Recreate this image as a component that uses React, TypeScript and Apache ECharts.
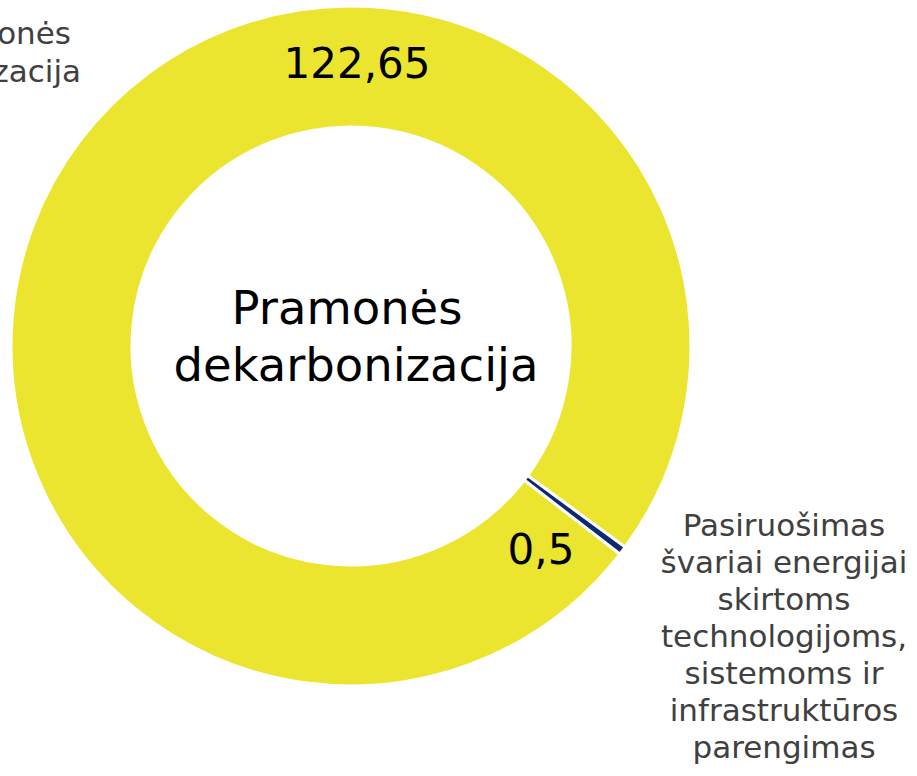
import React, { useEffect, useRef } from "react";
import * as echarts from "echarts";

const categories = [
  "Pramonės dekarbonizacija",
  "Pasiruošimas švariai energijai skirtoms technologijoms, sistemoms ir infrastruktūros parengimas",
];
const categoryLabels = [
  "{p|Pramonės}\n{q|dekarbonizacija}",
  "Pasiruošimas\nšvariai energijai\nskirtoms\ntechnologijoms,\nsistemoms ir\ninfrastruktūros\nparengimas",
];
const values = [122.65, 0.5];
const colors = ["#EBE530", "#0C2A6E"];
const centerTitleLines = ["Pramonės", "dekarbonizacija"];

const FONT = "'DejaVu Sans', Verdana, sans-serif";

export default function App() {
  const ref = useRef<HTMLDivElement>(null);
  useEffect(() => {
    if (!ref.current) return;
    const chart = echarts.init(ref.current, undefined, { renderer: "svg" });
    const data = categories.map((name, i) => ({
      name,
      value: values[i],
      itemStyle: { color: colors[i] },
    }));
    const valuePos = [
      { x: 357, y: 63 },
      { x: 541, y: 549 },
    ];
    const namePos = [
      { x: 81, y: 52, align: "right", lineHeight: 38 },
      { x: 784, y: 636, align: "center", lineHeight: 37 },
    ];
    chart.setOption({
      animation: false,
      backgroundColor: "#ffffff",
      graphic: [
        {
          type: "text",
          x: 356,
          y: 336,
          style: {
            text: `{a|${centerTitleLines[0]}}\n{b|${centerTitleLines[1]}}`,
            align: "center",
            verticalAlign: "middle",
            rich: {
              a: {
                fontFamily: FONT,
                fontSize: 46.5,
                lineHeight: 57,
                fill: "#000000",
                color: "#000000",
                padding: [0, 18, 0, 0],
              },
              b: {
                fontFamily: FONT,
                fontSize: 46.5,
                lineHeight: 57,
                fill: "#000000",
                color: "#000000",
              },
            },
          },
        },
      ],
      series: [
        {
          type: "pie",
          center: [351, 346],
          radius: [219, 340],
          startAngle: -37.73,
          clockwise: true,
          avoidLabelOverlap: false,
          silent: true,
          itemStyle: { borderColor: "#ffffff", borderWidth: 3 },
          label: {
            show: true,
            position: "inside",
            formatter: (p: any) => String(p.value).replace(".", ","),
            fontFamily: FONT,
            fontSize: 42,
            color: "#000000",
          },
          labelLine: { show: false },
          labelLayout: (p: any) => ({
            x: valuePos[p.dataIndex].x,
            y: valuePos[p.dataIndex].y,
            align: "center",
            verticalAlign: "middle",
          }),
          data,
        },
        {
          type: "pie",
          center: [351, 346],
          radius: [219, 340],
          startAngle: -37.73,
          clockwise: true,
          avoidLabelOverlap: false,
          silent: true,
          itemStyle: { color: "rgba(0,0,0,0)", borderWidth: 0 },
          label: {
            show: true,
            position: "outside",
            formatter: (p: any) => categoryLabels[p.dataIndex],
            fontFamily: FONT,
            fontSize: 31,
            color: "#404040",
            rich: {
              p: {
                fontFamily: FONT,
                fontSize: 31,
                lineHeight: 38,
                color: "#404040",
                padding: [0, 10, 0, 0],
              },
              q: {
                fontFamily: FONT,
                fontSize: 31,
                lineHeight: 38,
                color: "#404040",
              },
            },
          },
          labelLine: { show: false },
          labelLayout: (p: any) => ({
            x: namePos[p.dataIndex].x,
            y: namePos[p.dataIndex].y,
            align: namePos[p.dataIndex].align,
            verticalAlign: "middle",
          }),
          data: categories.map((name, i) => ({
            name,
            value: values[i],
            itemStyle: { color: "rgba(0,0,0,0)" },
            label: { lineHeight: namePos[i].lineHeight },
          })),
        },
      ],
    });
    return () => chart.dispose();
  }, []);
  return (
    <div
      ref={ref}
      style={{ position: "fixed", left: 0, top: 0, width: 917, height: 776, background: "#fff" }}
    />
  );
}
